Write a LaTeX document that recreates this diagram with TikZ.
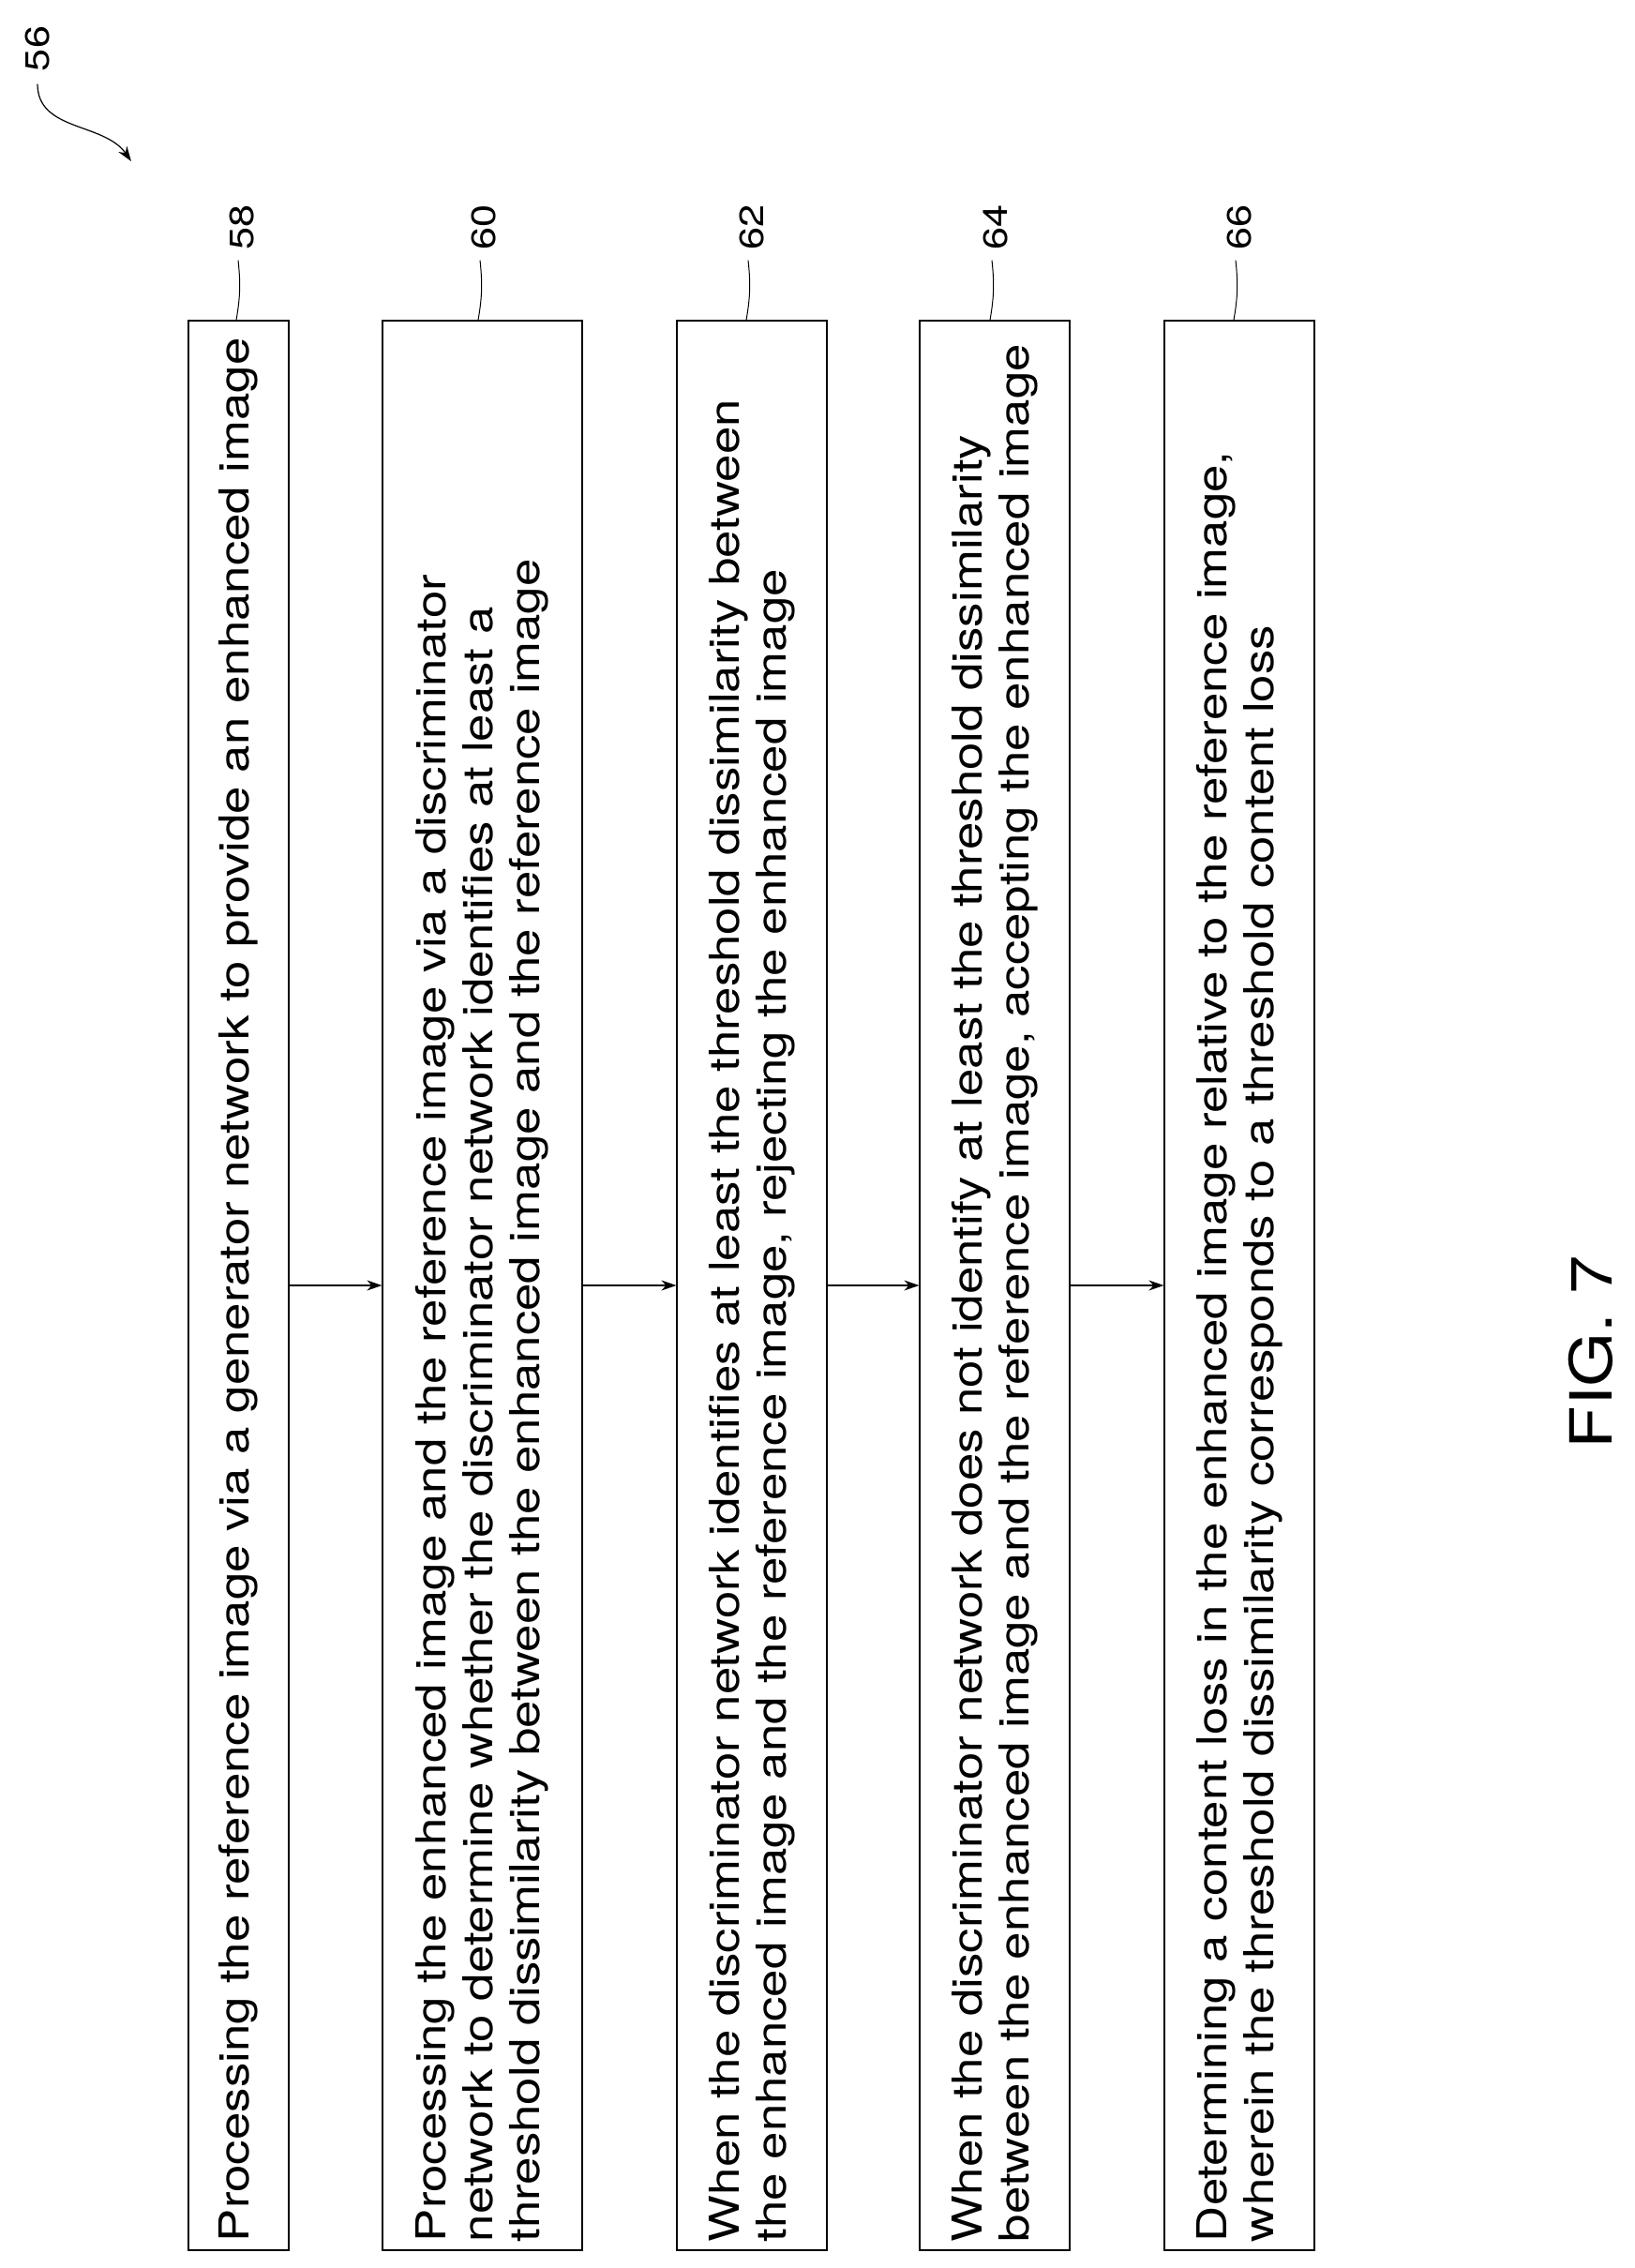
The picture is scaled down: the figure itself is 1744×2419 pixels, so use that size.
\documentclass[tikz,border=0pt]{standalone}
\usepackage{fontspec}
\setmainfont{TeX Gyre Heros}[FakeStretch=1.2]
\usetikzlibrary{arrows.meta}
\begin{document}
\begin{tikzpicture}[x=1pt,y=-1pt,
  stepbox/.style={draw,line width=1.2pt,rotate=90,minimum height=#1,minimum width=2058,
    text width=2040,align=left,inner sep=0pt,font=\fontsize{44}{50}\selectfont},
  reflabel/.style={font=\fontsize{36}{36}\selectfont,rotate=90},
  flow/.style={-{Stealth[length=16,width=11]},line width=1.2pt}]
  \useasboundingbox (0,0) rectangle (1744,2419);
  % the numbered steps
  \node[stepbox=107] (s58) at (254.5,1371) {Processing the reference image via a generator network to provide an enhanced image};
  \node[stepbox=213] (s60) at (514.5,1371) {Processing the enhanced image and the reference image via a discriminator\\ network to determine whether the discriminator network identifies at least a\\ threshold dissimilarity between the enhanced image and the reference image};
  \node[stepbox=160] (s62) at (802,1371) {When the discriminator network identifies at least the threshold dissimilarity between\\ the enhanced image and the reference image, rejecting the enhanced image};
  \node[stepbox=160] (s64) at (1061,1371) {When the discriminator network does not identify at least the threshold dissimilarity\\ between the enhanced image and the reference image, accepting the enhanced image};
  \node[stepbox=160] (s66) at (1322,1371) {Determining a content loss in the enhanced image relative to the reference image,\\ wherein the threshold dissimilarity corresponds to a threshold content loss};
  % arrows between steps
  \foreach \a/\b in {s58/s60,s60/s62,s62/s64,s64/s66}
    \draw[flow] (\a.south) -- (\b.north);
  % reference numerals
  \foreach \n/\x in {58/258,60/516,62/802,64/1062,66/1322}
  {
    \node[reflabel] (n\n) at (\x,242) {\n};
    \draw[line width=1pt] (n\n.west) ++(-4,8) to[bend left=8] (s\n.east -| \x-6,0);
  }
  \node[reflabel] (n56) at (40,52) {56};
  \coordinate (a56) at (140,172);
  \draw[flow] (n56.west) ++(0,10) to[out=-90,in=125] (a56);
  % figure title
  \node[rotate=90,font=\fontsize{62}{62}\selectfont] (fig) at (1697,1442) {FIG. 7};
\end{tikzpicture}
\end{document}
